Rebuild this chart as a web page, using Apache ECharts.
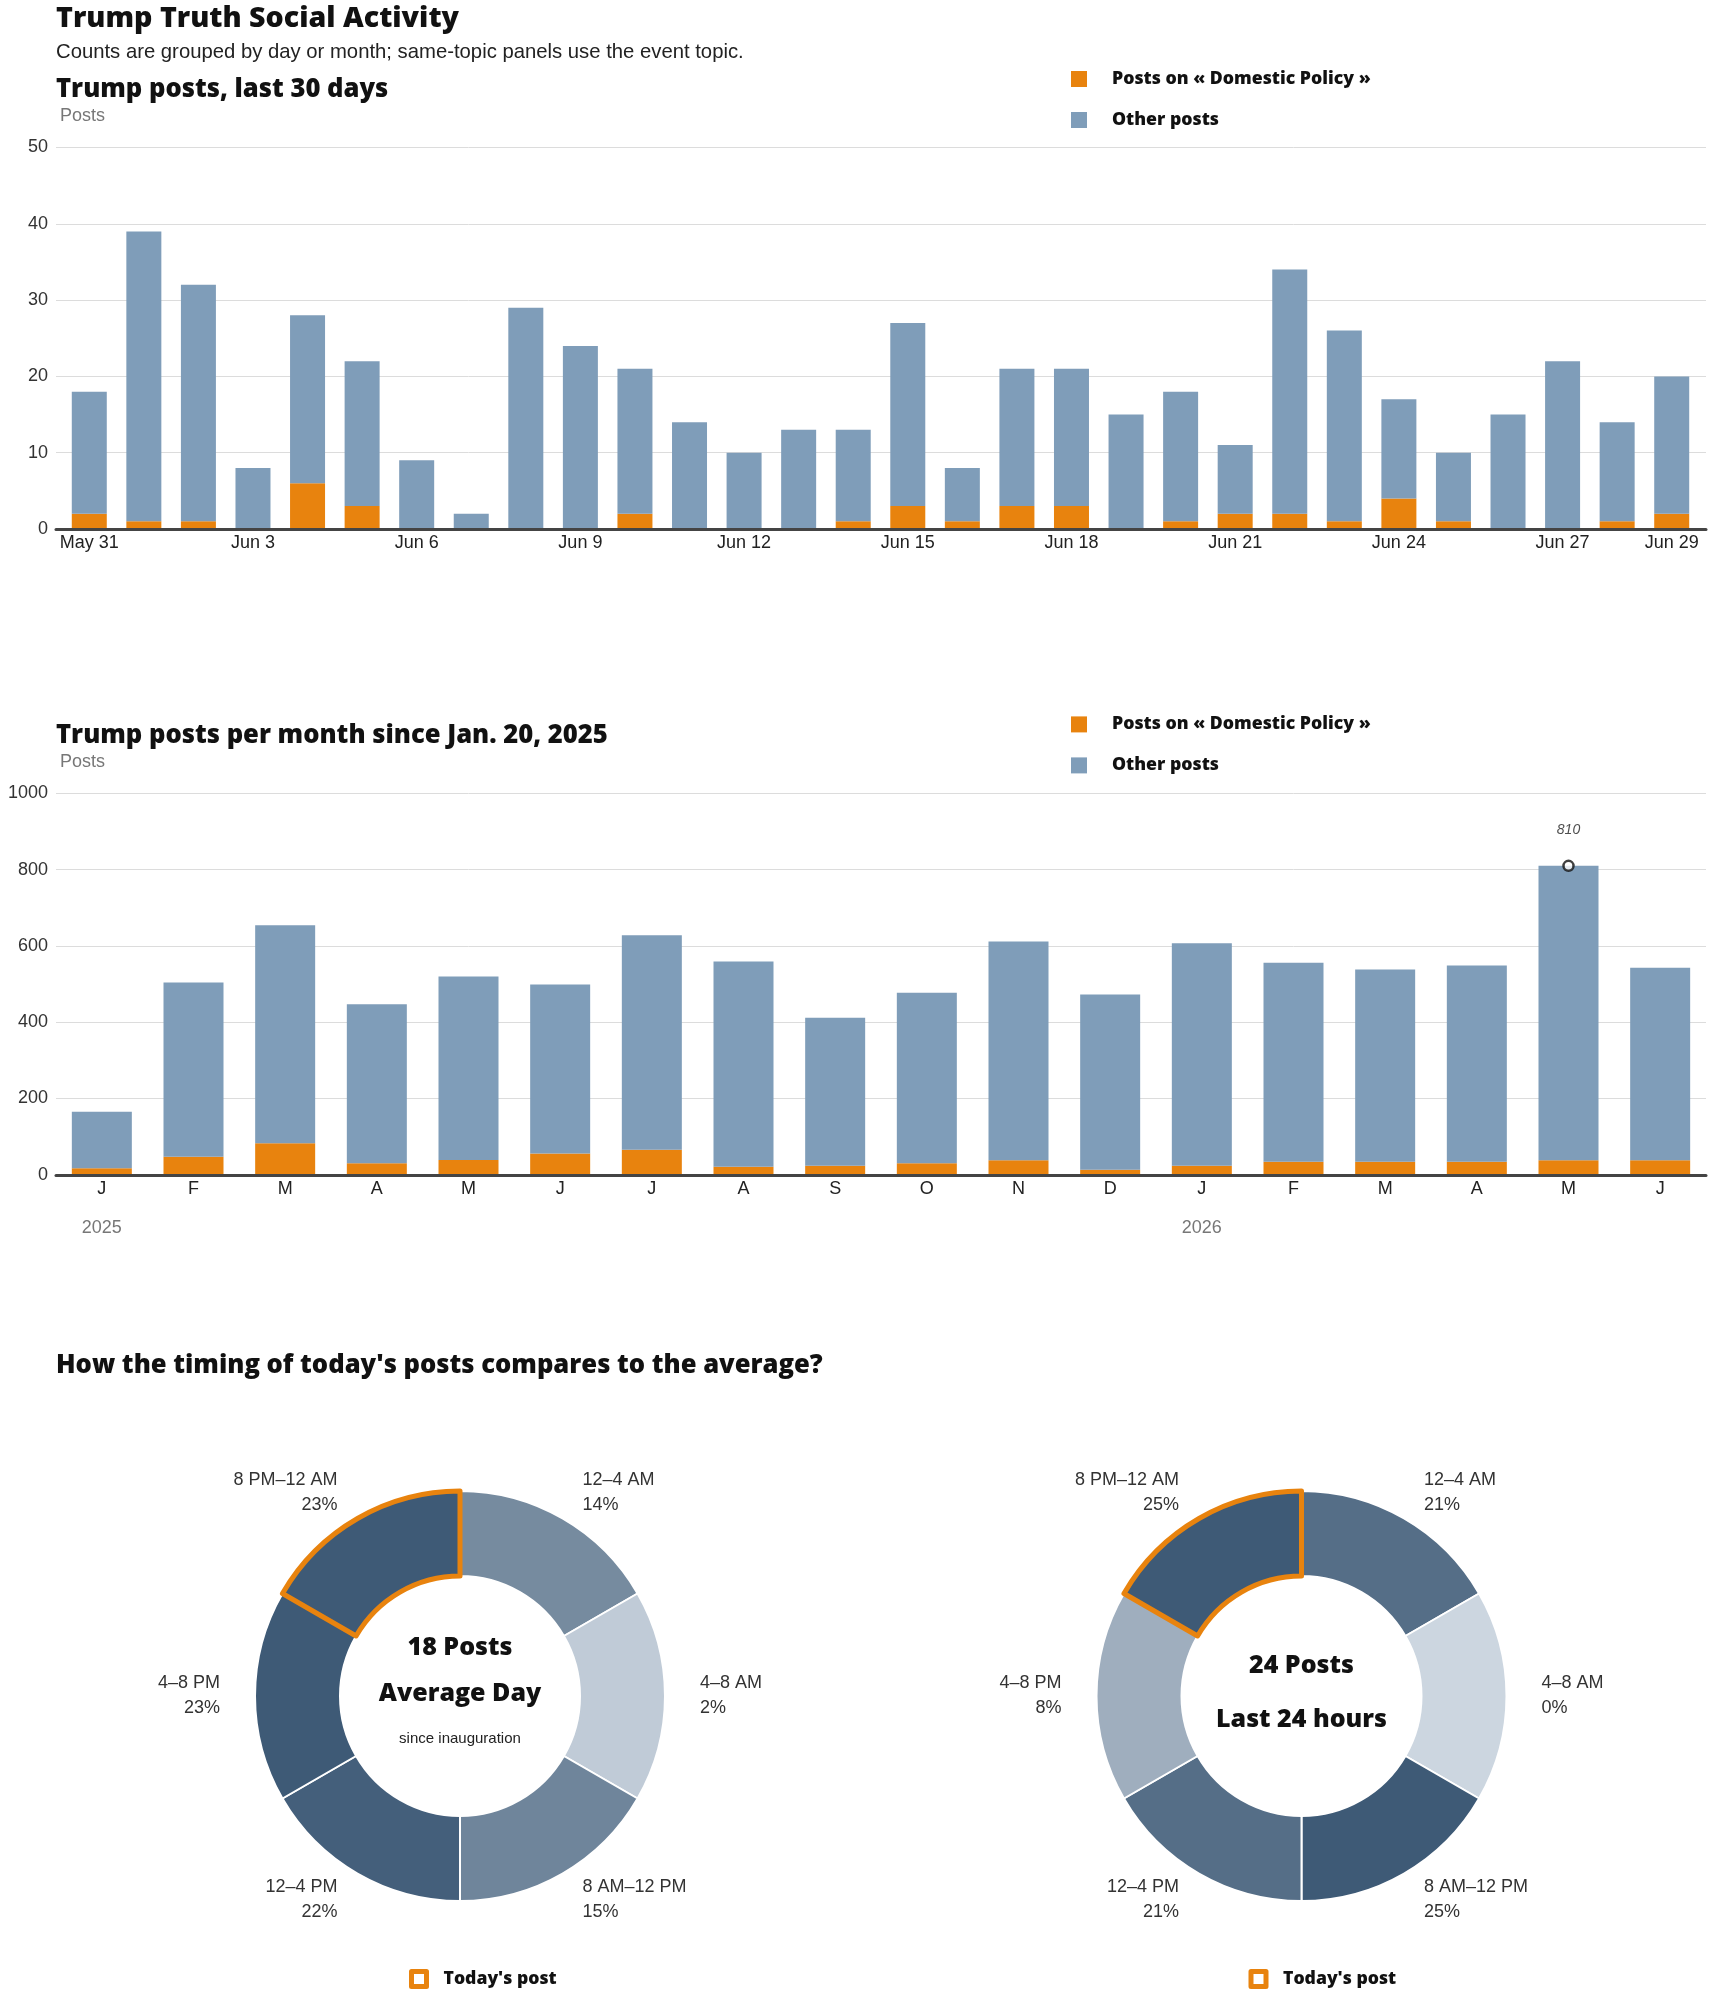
<!DOCTYPE html>
<html lang="en">
<head>
    <meta charset="UTF-8">
    <title>Trump Truth Social Activity</title>
    <script src="https://cdn.jsdelivr.net/npm/echarts@6/dist/echarts.min.js"></script>
    <style>
        html, body {
            margin: 0;
            padding: 0;
            background: #fff;
        }
        #chart {
            width: 1710px;
            height: 1993px;
        }
    </style>
</head>
<body>
<div id="chart"></div>
<script>
    // last 30 days
    var dayLabels = ['May 31', 'Jun 1', 'Jun 2', 'Jun 3', 'Jun 4', 'Jun 5', 'Jun 6', 'Jun 7', 'Jun 8', 'Jun 9',
        'Jun 10', 'Jun 11', 'Jun 12', 'Jun 13', 'Jun 14', 'Jun 15', 'Jun 16', 'Jun 17', 'Jun 18', 'Jun 19',
        'Jun 20', 'Jun 21', 'Jun 22', 'Jun 23', 'Jun 24', 'Jun 25', 'Jun 26', 'Jun 27', 'Jun 28', 'Jun 29'];
    var dayDomestic = [2, 1, 1, 0, 6, 3, 0, 0, 0, 0, 2, 0, 0, 0, 1, 3, 1, 3, 3, 0, 1, 2, 2, 1, 4, 1, 0, 0, 1, 2];
    var dayOther = [16, 38, 31, 8, 22, 19, 9, 2, 29, 24, 19, 14, 10, 13, 12, 24, 7, 18, 18, 15, 17, 9, 32, 25, 13, 9, 15, 22, 13, 18];

    // per month since inauguration
    var months = ['2025-01', '2025-02', '2025-03', '2025-04', '2025-05', '2025-06', '2025-07', '2025-08', '2025-09',
        '2025-10', '2025-11', '2025-12', '2026-01', '2026-02', '2026-03', '2026-04', '2026-05', '2026-06'];
    var monthDomestic = [17, 47, 83, 30, 39, 56, 66, 21, 24, 30, 38, 13, 24, 34, 34, 34, 38, 38];
    var monthOther = [148, 457, 571, 417, 481, 443, 562, 538, 388, 447, 574, 460, 583, 522, 504, 515, 772, 505];
    var monthLetters = ['J', 'F', 'M', 'A', 'M', 'J', 'J', 'A', 'S', 'O', 'N', 'D'];

    // time of day
    var slotNames = ['12–4 AM', '4–8 AM', '8 AM–12 PM', '12–4 PM', '4–8 PM', '8 PM–12 AM'];
    var avgShare = [14, 2, 15, 22, 23, 23];
    var lastShare = [21, 0, 25, 21, 8, 25];
    var todaySlot = 5;
    var avgPosts = 18;
    var lastPosts = 24;

    var ORANGE = '#e8830e';
    var BLUE = '#7f9db9';
    var HEAVY = '"Open Sans", sans-serif';
    var REG = '"Liberation Sans", Arial, sans-serif';
    var DOMESTIC = 'Posts on « Domestic Policy »';
    var OTHER = 'Other posts';
    var TODAY = "Today's post";

    var monthTotals = monthDomestic.map(function (d, i) { return d + monthOther[i]; });
    var peak = monthTotals.indexOf(Math.max.apply(null, monthTotals));

    function shade(p, max) {
        var light = [204, 214, 224], dark = [62, 90, 118];
        var t = max ? p / max : 0;
        return 'rgb(' + light.map(function (c, k) {
            return Math.round(c + (dark[k] - c) * t);
        }).join(',') + ')';
    }

    function txt(s, x, y, size, weight, color, align, family) {
        return {
            type: 'text', x: x, y: y, silent: true,
            style: {
                text: s, fontSize: size, fontWeight: weight, fontFamily: family || HEAVY,
                fill: color, align: align || 'left', verticalAlign: 'middle'
            }
        };
    }

    function valueAxis(grid, max, interval, show) {
        return {
            type: 'value', gridIndex: grid, min: 0, max: max, interval: interval, show: show,
            name: show ? 'Posts' : '', nameLocation: 'end', nameGap: 31,
            nameTextStyle: {color: '#777', fontSize: 18, fontFamily: REG, align: 'left', verticalAlign: 'middle', padding: [0, 0, 0, 4]},
            axisLine: {show: false}, axisTick: {show: false},
            axisLabel: {
                color: '#333', fontSize: 18, fontFamily: REG, margin: 8,
                formatter: function (v) { return String(v); }
            },
            splitLine: {show: show, lineStyle: {color: '#dcdcdc', width: 1}}
        };
    }

    function pieSeries(center, share) {
        var max = Math.max.apply(null, share);
        return {
            type: 'pie', name: 'slots', center: center, radius: [120, 205], startAngle: 90,
            silent: true, avoidLabelOverlap: false,
            itemStyle: {borderColor: '#fff', borderWidth: 2},
            label: {
                show: true, position: 'outside', distanceToLabelLine: 5,
                color: '#333', fontSize: 18, lineHeight: 25, fontFamily: REG,
                formatter: function (p) { return p.name + '\n' + share[p.dataIndex] + '%'; }
            },
            labelLine: {show: false, length: 30, length2: 0},
            data: slotNames.map(function (n, i) {
                return {name: n, value: 1, itemStyle: {color: shade(share[i], max)}};
            })
        };
    }

    function todaySeries(center) {
        return {
            type: 'pie', name: TODAY, center: center, radius: [120, 205], startAngle: 90,
            silent: true, z: 5, label: {show: false}, labelLine: {show: false},
            data: slotNames.map(function (n, i) {
                return {
                    name: n, value: 1,
                    itemStyle: i === todaySlot
                        ? {color: 'rgba(0,0,0,0)', borderColor: ORANGE, borderWidth: 5}
                        : {color: 'rgba(0,0,0,0)', borderWidth: 0}
                };
            })
        };
    }

    function barLegend(top) {
        return {
            data: [DOMESTIC, OTHER], orient: 'vertical', left: 1071, top: top, padding: 0,
            icon: 'rect', itemWidth: 16, itemHeight: 16, itemGap: 23,
            textStyle: {color: '#111', fontSize: 17.7, fontWeight: 800, fontFamily: HEAVY, lineHeight: 16, padding: [0, 0, 0, 20]}
        };
    }

    function todayLegend(left) {
        return {
            data: [{name: TODAY, icon: 'rect', itemStyle: {color: '#fff', borderColor: ORANGE, borderWidth: 5}}],
            left: left, top: 1969, padding: 0, itemWidth: 15, itemHeight: 15,
            textStyle: {color: '#111', fontSize: 17.6, fontWeight: 800, fontFamily: HEAVY, padding: [0, 0, 0, 12]}
        };
    }

    var myChart = echarts.init(document.getElementById('chart'), null, {renderer: 'canvas'});

    var option = {
        backgroundColor: '#fff',
        animation: false,
        grid: [
            {left: 56, right: 4, top: 147.5, height: 381.5, containLabel: false, outerBoundsMode: 'none'},
            {left: 62, right: 11, top: 147.5, height: 381.5, containLabel: false, outerBoundsMode: 'none'},
            {left: 56, right: 4, top: 793.4, height: 381.4, containLabel: false, outerBoundsMode: 'none'}
        ],
        xAxis: [
            {
                type: 'category', gridIndex: 0, data: dayLabels, z: 10,
                axisLine: {lineStyle: {color: '#444', width: 3}},
                axisTick: {show: false}, axisLabel: {show: false}, splitLine: {show: false}
            },
            {
                type: 'category', gridIndex: 1, data: dayLabels,
                axisLine: {show: false}, axisTick: {show: false}, splitLine: {show: false},
                axisLabel: {
                    color: '#222', fontSize: 18, fontFamily: REG, margin: 5,
                    interval: function (i) { return i % 3 === 0 || i === dayLabels.length - 1; }
                }
            },
            {
                type: 'category', gridIndex: 2, data: months, z: 10,
                axisLine: {lineStyle: {color: '#444', width: 3}},
                axisTick: {show: false}, splitLine: {show: false},
                axisLabel: {
                    interval: 0, margin: 5,
                    formatter: function (v) {
                        var m = +v.slice(5);
                        var s = '{m|' + monthLetters[m - 1] + '}';
                        if (m === 1) s += '\n{y|' + v.slice(0, 4) + '}';
                        return s;
                    },
                    rich: {
                        m: {color: '#222', fontSize: 18, fontFamily: REG, lineHeight: 18},
                        y: {color: '#777', fontSize: 18, fontFamily: REG, lineHeight: 60}
                    }
                }
            }
        ],
        yAxis: [
            valueAxis(0, 50, 10, true),
            valueAxis(1, 50, 10, false),
            valueAxis(2, 1000, 200, true)
        ],
        legend: [barLegend(70), barLegend(715.4), todayLegend(409), todayLegend(1248.5)],
        series: [
            {name: DOMESTIC, type: 'bar', xAxisIndex: 1, yAxisIndex: 1, stack: 'day', barWidth: 35,
                itemStyle: {color: ORANGE}, data: dayDomestic},
            {name: OTHER, type: 'bar', xAxisIndex: 1, yAxisIndex: 1, stack: 'day', barWidth: 35,
                itemStyle: {color: BLUE}, data: dayOther},
            {name: DOMESTIC, type: 'bar', xAxisIndex: 2, yAxisIndex: 2, stack: 'month', barWidth: 60,
                itemStyle: {color: ORANGE}, data: monthDomestic},
            {name: OTHER, type: 'bar', xAxisIndex: 2, yAxisIndex: 2, stack: 'month', barWidth: 60,
                itemStyle: {color: BLUE}, data: monthOther},
            {
                name: 'peak', type: 'scatter', xAxisIndex: 2, yAxisIndex: 2, z: 6, silent: true,
                symbol: 'circle', symbolSize: 10,
                itemStyle: {color: '#fff', borderColor: '#111', borderWidth: 2.5},
                label: {
                    show: true, position: 'top', distance: 23, color: '#222',
                    fontSize: 14, fontStyle: 'italic', fontFamily: REG,
                    formatter: function (p) { return p.value[1]; }
                },
                data: [[peak, monthTotals[peak]]]
            },
            pieSeries([460, 1696], avgShare),
            todaySeries([460, 1696]),
            pieSeries([1301.5, 1696], lastShare),
            todaySeries([1301.5, 1696])
        ],
        graphic: [
            txt('Trump Truth Social Activity', 56, 18.5, 28.6, 800, '#111'),
            txt('Counts are grouped by day or month; same-topic panels use the event topic.', 56, 52, 20.3, 'normal', '#222', 'left', REG),
            txt('Trump posts, last 30 days', 56, 90, 25.6, 800, '#111'),
            txt('Trump posts per month since Jan. 20, 2025', 56, 736, 25.6, 800, '#111'),
            txt("How the timing of today's posts compares to the average?", 56, 1365.5, 25.6, 800, '#111'),
            txt(avgPosts + ' Posts', 460, 1648, 25, 800, '#111', 'center'),
            txt('Average Day', 460, 1694, 25, 800, '#111', 'center'),
            txt('since inauguration', 460, 1739, 15, 'normal', '#222', 'center', REG),
            txt(lastPosts + ' Posts', 1301.5, 1666, 25, 800, '#111', 'center'),
            txt('Last 24 hours', 1301.5, 1720, 25, 800, '#111', 'center')
        ]
    };
    myChart.setOption(option);
</script>
</body>
</html>
